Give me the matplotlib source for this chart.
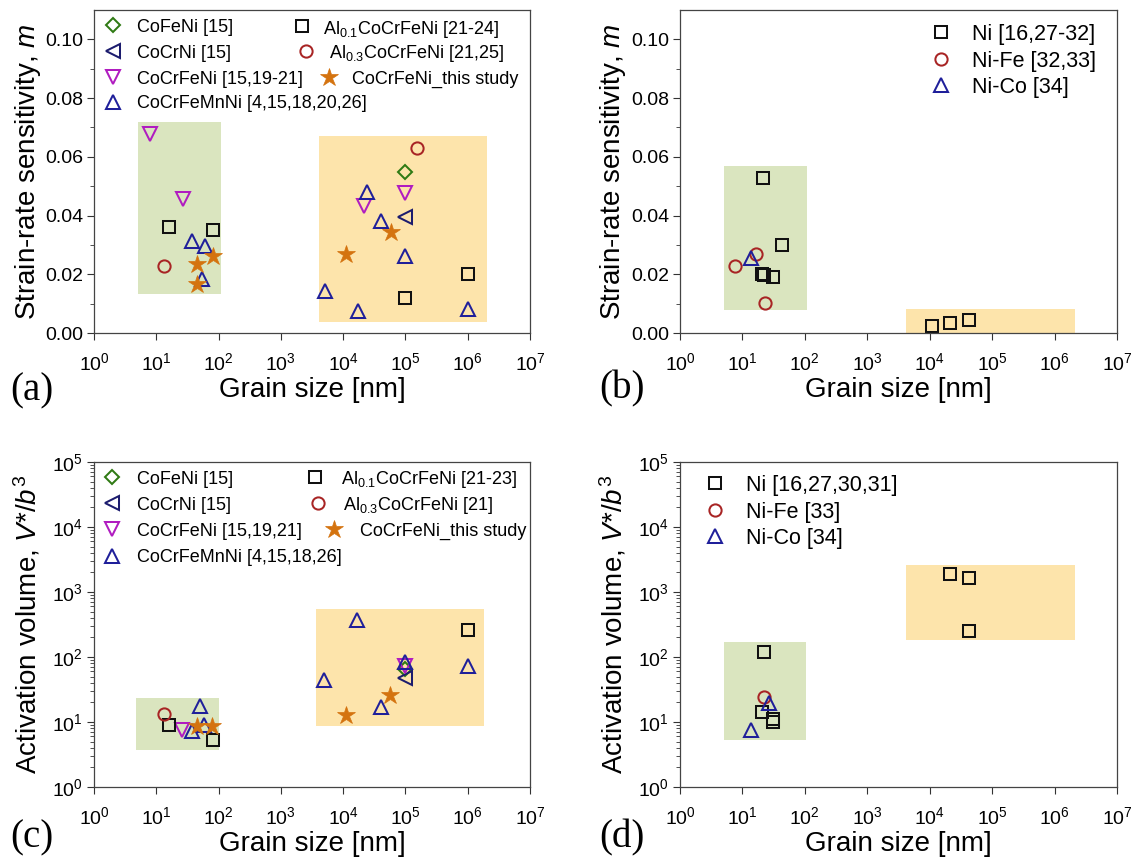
import matplotlib
matplotlib.use("Agg")
import matplotlib.pyplot as plt
from matplotlib.patches import Rectangle
from matplotlib.lines import Line2D

plt.rcParams['font.family'] = ['Liberation Sans', 'DejaVu Sans']
plt.rcParams['mathtext.fontset'] = 'custom'
plt.rcParams['mathtext.rm'] = 'Liberation Sans'
plt.rcParams['mathtext.it'] = 'Liberation Sans:italic'
plt.rcParams['mathtext.bf'] = 'Liberation Sans:bold'

# ---------------- Data: panel (a) strain-rate sensitivity, HEAs ----------------
a_cofeni_d = [1e5];               a_cofeni_m = [0.055]
a_cocrni_d = [1e5];               a_cocrni_m = [0.0395]
a_cocrfeni_d = [7.8, 27, 2.2e4, 1e5]
a_cocrfeni_m = [0.0677, 0.0456, 0.0434, 0.0476]
a_mn_d = [38, 60, 54, 2.4e4, 4.1e4, 1e5, 5.2e3, 1.74e4, 1e6]
a_mn_m = [0.0315, 0.0295, 0.0184, 0.048, 0.038, 0.0263, 0.0142, 0.0074, 0.0083]
a_al01_d = [16.2, 82, 1e5, 1e6]
a_al01_m = [0.036, 0.035, 0.0119, 0.020]
a_al03_d = [13.3, 1.54e5]
a_al03_m = [0.0229, 0.063]
a_this_d = [45.5, 80, 45.5, 1.13e4, 5.8e4]
a_this_m = [0.0235, 0.0263, 0.0168, 0.0269, 0.0344]

# ---------------- Data: panel (b) strain-rate sensitivity, Ni-based ----------------
b_ni_d = [21.5, 43, 20.5, 22, 31, 1.1e4, 2.1e4, 4.3e4]
b_ni_m = [0.0528, 0.030, 0.020, 0.0198, 0.019, 0.0025, 0.0034, 0.0045]
b_nife_d = [7.7, 16.2, 23]
b_nife_m = [0.0229, 0.027, 0.0102]
b_nico_d = [13.6]
b_nico_m = [0.0255]

# ---------------- Data: panel (c) activation volume, HEAs ----------------
c_cofeni_d = [1e5];               c_cofeni_v = [65]
c_cocrni_d = [1e5];               c_cocrni_v = [47.5]
c_cocrfeni_d = [26, 1e5]
c_cocrfeni_v = [7.4, 72]
c_mn_d = [38, 50, 58, 1.7e4, 4.95e3, 4.0e4, 1e5, 1e6]
c_mn_v = [7.2, 17.4, 9.0, 375, 44.8, 17, 83, 72]
c_al01_d = [15.8, 80, 1e6]
c_al01_v = [9.1, 5.2, 263]
c_al03_d = [13.1]
c_al03_v = [13.3]
c_this_d = [45.5, 77, 1.1e4, 5.6e4]
c_this_v = [8.6, 8.6, 13, 25.7]

# ---------------- Data: panel (d) activation volume, Ni-based ----------------
d_ni_d = [21.8, 20.8, 30.5, 31, 2.1e4, 4.3e4, 4.3e4]
d_ni_v = [119, 14.3, 11, 10.1, 1890, 1660, 251]
d_nife_d = [22.4];                d_nife_v = [23.9]
d_nico_d = [26.3, 13.5];          d_nico_v = [19.6, 7.6]

# ---------------- Shaded regions (x0, x1, y0, y1) ----------------
a_green = (5.1, 110, 0.0132, 0.0718)
a_orange = (4.07e3, 2.04e6, 0.0036, 0.0671)
b_green = (5.1, 107, 0.0079, 0.057)
b_orange = (4.2e3, 2.1e6, 0.0, 0.0083)
c_green = (4.8, 103, 3.66, 23.4)
c_orange = (3.7e3, 1.85e6, 8.8, 555)
d_green = (5.1, 104, 5.2, 170)
d_orange = (4.15e3, 2.15e6, 180, 2570)

# legend labels
lab_a = ['CoFeNi [15]', 'CoCrNi [15]', 'CoCrFeNi [15,19-21]', 'CoCrFeMnNi [4,15,18,20,26]',
         r'Al$_{0.1}$CoCrFeNi [21-24]', r'Al$_{0.3}$CoCrFeNi [21,25]', 'CoCrFeNi_this study']
lab_c = ['CoFeNi [15]', 'CoCrNi [15]', 'CoCrFeNi [15,19,21]', 'CoCrFeMnNi [4,15,18,26]',
         r'Al$_{0.1}$CoCrFeNi [21-23]', r'Al$_{0.3}$CoCrFeNi [21]', 'CoCrFeNi_this study']
lab_b = ['Ni [16,27-32]', 'Ni-Fe [32,33]', 'Ni-Co [34]']
lab_d = ['Ni [16,27,30,31]', 'Ni-Fe [33]', 'Ni-Co [34]']

GREEN_BOX = '#dae5bf'
ORANGE_BOX = '#fde4ab'
C_DIAM = '#2f7a14'
C_LTRI = '#1c1c6e'
C_DTRI = '#b01cc0'
C_UTRI = '#1f1f9a'
C_SQ = '#111111'
C_CIR = '#a82424'
C_STAR = '#d4730f'

W, H = 1134, 858
fig = plt.figure(figsize=(W / 100, H / 100), dpi=100)

PANELS = {'a': (94, 10, 530, 333), 'b': (680, 10, 1117, 333),
          'c': (94, 462, 530, 787), 'd': (680, 462, 1117, 787)}

def ax_at(l, t, r, b):
    return fig.add_axes([l / W, 1 - b / H, (r - l) / W, (b - t) / H])

axa = ax_at(*PANELS['a'])
axb = ax_at(*PANELS['b'])
axc = ax_at(*PANELS['c'])
axd = ax_at(*PANELS['d'])

mew = 1.45
STY = {
    'diam': dict(marker='D', ms=7.6, mfc='none', mec=C_DIAM, mew=mew, ls='none'),
    'ltri': dict(marker='<', ms=10.0, mfc='none', mec=C_LTRI, mew=mew, ls='none'),
    'dtri': dict(marker='v', ms=10.0, mfc='none', mec=C_DTRI, mew=mew, ls='none'),
    'utri': dict(marker='^', ms=10.0, mfc='none', mec=C_UTRI, mew=mew, ls='none'),
    'sq': dict(marker='s', ms=8.8, mfc='none', mec=C_SQ, mew=mew, ls='none'),
    'cir': dict(marker='o', ms=8.8, mfc='none', mec=C_CIR, mew=mew, ls='none'),
    'star': dict(marker='*', ms=13.5, mfc=C_STAR, mec=C_STAR, mew=0.5, ls='none'),
}

def boxes(ax, g, o):
    for (x0, x1, y0, y1), col in ((g, GREEN_BOX), (o, ORANGE_BOX)):
        ax.add_patch(Rectangle((x0, y0), x1 - x0, y1 - y0, facecolor=col,
                               edgecolor='none', zorder=0))

def style_axis(ax, logy):
    ax.set_xscale('log')
    ax.set_xlim(1, 1e7)
    ax.set_xticks([10.0 ** k for k in range(8)])
    ax.set_xticklabels([r'$10^{%d}$' % k for k in range(8)])
    if logy:
        ax.set_yscale('log')
        ax.set_ylim(1, 1e5)
        ax.set_yticks([10.0 ** k for k in range(6)])
        ax.set_yticklabels([r'$10^{%d}$' % k for k in range(6)])
    else:
        ax.set_ylim(0, 0.11)
        ax.set_yticks([0, 0.02, 0.04, 0.06, 0.08, 0.10])
        ax.set_yticklabels(['0.00', '0.02', '0.04', '0.06', '0.08', '0.10'])
        ax.set_yticks([0.01, 0.03, 0.05, 0.07, 0.09], minor=True)
    ax.tick_params(which='major', direction='out', length=5, width=0.8, labelsize=14,
                   color='#333333', top=False, right=False)
    ax.tick_params(which='minor', direction='out', length=3, width=0.6,
                   color='#333333', top=False, right=False)
    ax.tick_params(axis='x', which='major', pad=9)
    ax.tick_params(axis='y', which='major', pad=3)
    for s in ax.spines.values():
        s.set_color('#444444')
        s.set_linewidth(0.9)
    ax.set_xlabel('Grain size [nm]', fontsize=20)
    ax.xaxis.set_label_coords(0.5, -0.135)

def manual_legend(ax, panel, entries, fontsize):
    """entries: (style key, label, marker x px, text x px, y px)"""
    l, t, r, b = PANELS[panel]
    for key, lab, mx, tx, y in entries:
        fy = (b - y) / (b - t)
        ax.add_line(Line2D([(mx - l) / (r - l)], [fy], transform=ax.transAxes,
                           clip_on=False, **STY[key]))
        ax.text((tx - l) / (r - l), fy, lab, transform=ax.transAxes, fontsize=fontsize,
                ha='left', va='center_baseline')

# ---- panel (a)
boxes(axa, a_green, a_orange)
axa.plot(a_cofeni_d, a_cofeni_m, **STY['diam'])
axa.plot(a_cocrni_d, a_cocrni_m, **STY['ltri'])
axa.plot(a_cocrfeni_d, a_cocrfeni_m, **STY['dtri'])
axa.plot(a_mn_d, a_mn_m, **STY['utri'])
axa.plot(a_al01_d, a_al01_m, **STY['sq'])
axa.plot(a_al03_d, a_al03_m, **STY['cir'])
axa.plot(a_this_d, a_this_m, **STY['star'])
style_axis(axa, False)
axa.set_ylabel(r'Strain-rate sensitivity, $\it{m}$', fontsize=20)
axa.yaxis.set_label_coords(-0.118, 0.5)
manual_legend(axa, 'a', [
    ('diam', lab_a[0], 113, 137, 25),
    ('ltri', lab_a[1], 113, 137, 51),
    ('dtri', lab_a[2], 113, 137, 77),
    ('utri', lab_a[3], 113, 137, 102),
    ('sq', lab_a[4], 302, 323, 26),
    ('cir', lab_a[5], 306, 329, 51),
    ('star', lab_a[6], 329, 352, 77),
], 13)

# ---- panel (b)
boxes(axb, b_green, b_orange)
axb.plot(b_ni_d, b_ni_m, **STY['sq'])
axb.plot(b_nife_d, b_nife_m, **STY['cir'])
axb.plot(b_nico_d, b_nico_m, **STY['utri'])
style_axis(axb, False)
axb.set_ylabel(r'Strain-rate sensitivity, $\it{m}$', fontsize=20)
axb.yaxis.set_label_coords(-0.118, 0.5)
manual_legend(axb, 'b', [
    ('sq', lab_b[0], 941, 972, 32),
    ('cir', lab_b[1], 941, 972, 59),
    ('utri', lab_b[2], 941, 972, 85),
], 15.5)

# ---- panel (c)
boxes(axc, c_green, c_orange)
axc.plot(c_cofeni_d, c_cofeni_v, **STY['diam'])
axc.plot(c_cocrni_d, c_cocrni_v, **STY['ltri'])
axc.plot(c_cocrfeni_d, c_cocrfeni_v, **STY['dtri'])
axc.plot(c_mn_d, c_mn_v, **STY['utri'])
axc.plot(c_al01_d, c_al01_v, **STY['sq'])
axc.plot(c_al03_d, c_al03_v, **STY['cir'])
axc.plot(c_this_d, c_this_v, **STY['star'])
style_axis(axc, True)
axc.set_ylabel(r'Activation volume, $\it{V}$*/$\it{b}^3$', fontsize=20)
axc.yaxis.set_label_coords(-0.118, 0.5)
manual_legend(axc, 'c', [
    ('diam', lab_c[0], 112, 137, 477),
    ('ltri', lab_c[1], 112, 137, 503),
    ('dtri', lab_c[2], 112, 137, 529),
    ('utri', lab_c[3], 112, 137, 556),
    ('sq', lab_c[4], 315, 341, 477),
    ('cir', lab_c[5], 318, 343, 503),
    ('star', lab_c[6], 334, 360, 529),
], 13)

# ---- panel (d)
boxes(axd, d_green, d_orange)
axd.plot(d_ni_d, d_ni_v, **STY['sq'])
axd.plot(d_nife_d, d_nife_v, **STY['cir'])
axd.plot(d_nico_d, d_nico_v, **STY['utri'])
style_axis(axd, True)
axd.set_ylabel(r'Activation volume, $\it{V}$*/$\it{b}^3$', fontsize=20)
axd.yaxis.set_label_coords(-0.118, 0.5)
manual_legend(axd, 'd', [
    ('sq', lab_d[0], 715, 746, 483),
    ('cir', lab_d[1], 715, 746, 510),
    ('utri', lab_d[2], 715, 746, 536),
], 15.5)

# panel letters
for txt, x, y in (('(a)', 32, 391), ('(b)', 622, 389), ('(c)', 32, 838), ('(d)', 622, 838)):
    fig.text(x / W, 1 - y / H, txt, fontsize=28, family='Liberation Serif',
             ha='center', va='center')

fig.savefig('out.png', dpi=100)
